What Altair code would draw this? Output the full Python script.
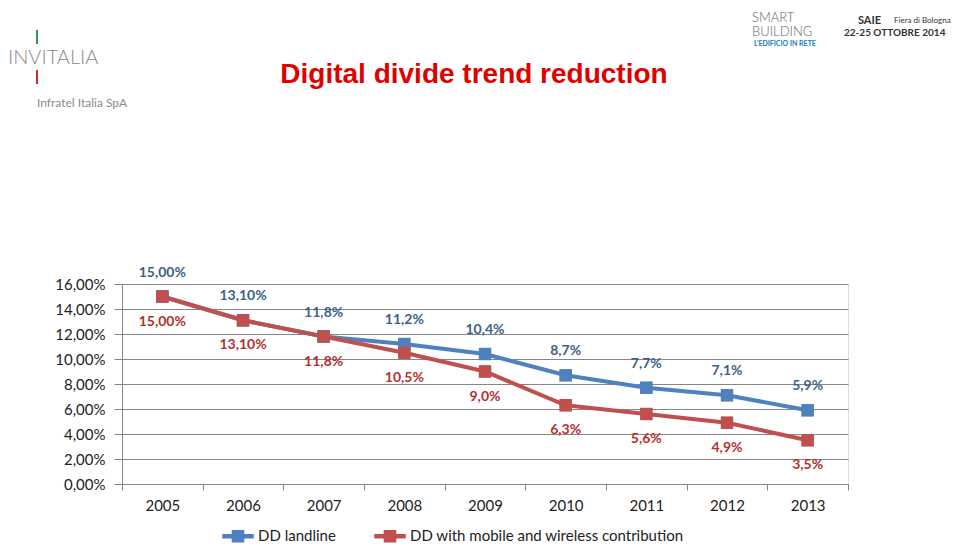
import altair as alt
import pandas as pd

years = ["2005", "2006", "2007", "2008", "2009", "2010", "2011", "2012", "2013"]
landline = [15.00, 13.10, 11.8, 11.2, 10.4, 8.7, 7.7, 7.1, 5.9]
mobile = [15.00, 13.10, 11.8, 10.5, 9.0, 6.3, 5.6, 4.9, 3.5]
landline_labels = ["15,00%", "13,10%", "11,8%", "11,2%", "10,4%", "8,7%", "7,7%", "7,1%", "5,9%"]
mobile_labels = ["15,00%", "13,10%", "11,8%", "10,5%", "9,0%", "6,3%", "5,6%", "4,9%", "3,5%"]
series_names = ["DD landline", "DD with mobile and wireless contribution"]
y_ticks = [0, 2, 4, 6, 8, 10, 12, 14, 16]

rows = []
for i, y in enumerate(years):
    rows.append({"series": series_names[0], "year": y, "value": landline[i], "label": landline_labels[i], "order": 0})
for i, y in enumerate(years):
    rows.append({"series": series_names[1], "year": y, "value": mobile[i], "label": mobile_labels[i], "order": 1})
df = pd.DataFrame(rows)
df["line_series"] = df["series"]

BLUE = "#4f81bd"
RED = "#c0504d"
FONT = "Lato"

xenc = alt.X("year:O", scale=alt.Scale(type="band", paddingInner=0, paddingOuter=0),
             axis=alt.Axis(title=None, labelAngle=0, tickBand="extent", grid=False,
                           labelFont=FONT, labelFontSize=15, labelColor="#222222",
                           labelPadding=8, tickSize=6, tickColor="#868686",
                           domainColor="#868686"))
yenc = alt.Y("value:Q", scale=alt.Scale(domain=[0, 16], nice=False),
             axis=alt.Axis(title=None, values=y_ticks,
                           labelExpr="replace(format(datum.value,'.2f'),'.',',')+'%'",
                           labelFont=FONT, labelFontSize=15, labelColor="#222222",
                           labelPadding=9, tickSize=8, tickColor="#868686",
                           gridColor="#868686", gridWidth=1,
                           domainColor="#868686"))

sym_path = "M-1,-0.1H1V0.1H-1Z M-0.37,-0.37H0.37V0.37H-0.37Z"
series_scale = alt.Scale(domain=series_names, range=[BLUE, RED])

base = alt.Chart(df)

legend_points = base.mark_square(size=150, filled=True, opacity=1).encode(
    x=xenc, y=yenc,
    color=alt.Color("series:N", scale=series_scale,
                    legend=alt.Legend(title=None, orient="none", legendX=100, legendY=236,
                                      direction="horizontal", symbolType=sym_path,
                                      symbolSize=900, labelLimit=400,
                                      labelFont=FONT, labelFontSize=15, labelColor="#222222",
                                      labelOffset=4, columnPadding=36)),
)

lines = base.mark_line(strokeWidth=4).encode(
    x=xenc, y=yenc,
    stroke=alt.Stroke("line_series:N", scale=series_scale, legend=None),
)

points = base.mark_square(size=150, filled=True, opacity=1).encode(
    x=xenc, y=yenc,
    fill=alt.Fill("line_series:N", scale=series_scale, legend=None),
)

blue_text = base.transform_filter(alt.datum.order == 0).mark_text(
    dy=-24, font=FONT, fontSize=14, fontWeight="bold", color="#3e5f8a"
).encode(x=xenc, y=yenc, text="label:N")

red_text = base.transform_filter(alt.datum.order == 1).mark_text(
    dy=25, font=FONT, fontSize=14, fontWeight="bold", color="#b5302d"
).encode(x=xenc, y=yenc, text="label:N")

# header decorations (positions relative to plot origin)
one = pd.DataFrame({"k": [0]})
def txt(text, x, y, size, color, weight="normal", align="left", font=FONT):
    return alt.Chart(one).mark_text(text=text, align=align, baseline="middle", fontSize=size,
                                    color=color, fontWeight=weight, font=font).encode(
        x=alt.value(x), y=alt.value(y))

title = txt("Digital divide trend reduction", 352, -209, 28, "#e00000", "bold", "center", "Liberation Sans")
invitalia = txt("INVITALIA", -114, -226, 20, "#8a8a8a", 300)
infratel = txt("Infratel Italia SpA", -85, -181, 12, "#8a8a8a")
green_bar = alt.Chart(one).mark_rule(color="#2e9b4f", strokeWidth=2).encode(
    x=alt.value(-85), y=alt.value(-254), y2=alt.value(-240))
red_bar = alt.Chart(one).mark_rule(color="#c9302c", strokeWidth=2).encode(
    x=alt.value(-85), y=alt.value(-214), y2=alt.value(-200))
smart = txt("SMART", 630, -266, 13, "#666666", 300)
building = txt("BUILDING", 630, -252, 13, "#666666", 300)
edificio = txt("L'EDIFICIO IN RETE", 632, -240, 7, "#1a7fc1", "bold")
saie = txt("SAIE", 736, -263, 11, "#333333", "bold")
fiera = txt("Fiera di Bologna", 772, -263, 8, "#333333")
date = txt("22-25 OTTOBRE 2014", 722, -251, 10, "#333333", "bold")

chart = alt.layer(
    legend_points, lines, points, blue_text, red_text,
    title, invitalia, infratel, green_bar, red_bar,
    smart, building, edificio, saie, fiera, date,
).properties(
    width=726, height=200,
    autosize=alt.AutoSizeParams(type="none"),
    padding={"left": 114, "top": 276, "right": 104, "bottom": 60},
).configure_view(stroke=None).configure(background="white")

chart.save("out.html", embed_options={"renderer": "svg", "actions": False})
